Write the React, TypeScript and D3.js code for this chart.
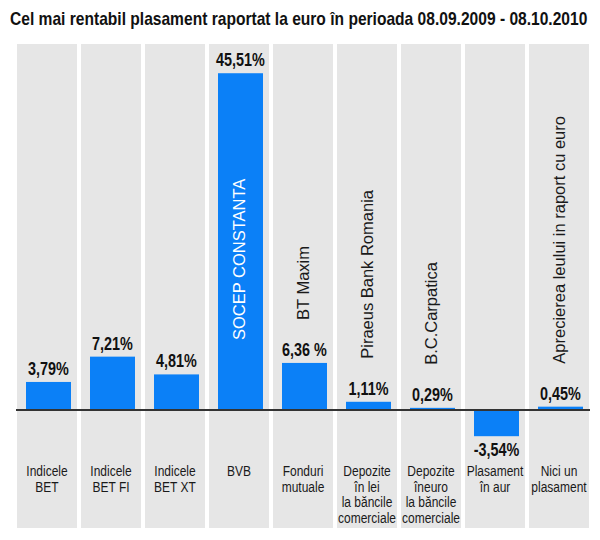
import { useEffect, useRef } from 'react';
import * as d3 from 'd3';

const title = 'Cel mai rentabil plasament raportat la euro în perioada 08.09.2009 - 08.10.2010';

const categories = ['bet', 'betfi', 'betxt', 'bvb', 'fonduri', 'lei', 'euro', 'aur', 'nici'];

const values = [3.79, 7.21, 4.81, 45.51, 6.36, 1.11, 0.29, -3.54, 0.45];

const valueLabels = ['3,79%', '7,21%', '4,81%', '45,51%', '6,36 %', '1,11%', '0,29%', '-3,54%', '0,45%'];

const categoryLabels = [
    ['Indicele', 'BET'],
    ['Indicele', 'BET FI'],
    ['Indicele', 'BET XT'],
    ['BVB'],
    ['Fonduri', 'mutuale'],
    ['Depozite', 'în lei', 'la băncile', 'comerciale'],
    ['Depozite', 'îneuro', 'la băncile', 'comerciale'],
    ['Plasament', 'în aur'],
    ['Nici un', 'plasament'],
];

// best performer names, written vertically
const winners = ['', '', '', 'SOCEP CONSTANTA', 'BT Maxim', 'Piraeus Bank Romania', 'B.C.Carpatica', '', 'Aprecierea leului in raport cu euro'];

const font = '"Liberation Sans", Arial, sans-serif';
const squeeze = 0.8; // no narrow font installed, so squash Liberation Sans

const App = () => {
    const ref = useRef(null);

    useEffect(() => {
        document.body.style.margin = '0';
        const svg = d3.select(ref.current);
        svg.selectAll('*').remove();

        const x = d3.scaleBand()
            .domain(categories)
            .range([17, 589])
            .paddingInner(0.0625)
            .paddingOuter(0);

        const y = d3.scaleLinear()
            .domain([-5, 50])
            .range([447, 40]);

        const bw = x.bandwidth();

        svg.append('rect')
            .attr('width', 600).attr('height', 540)
            .attr('fill', '#fff');

        const t = svg.append('text')
            .style('font-family', font)
            .style('font-weight', 'bold')
            .style('font-size', '19px')
            .attr('fill', '#111')
            .text(title);
        const natural = t.node().getComputedTextLength() || 700;
        t.attr('transform', `translate(10,25) scale(${578 / natural},1)`);

        // gray columns
        svg.append('g')
            .attr('fill', '#e6e6e6')
            .selectAll('rect').data(categories).enter().append('rect')
            .attr('x', d => x(d))
            .attr('y', 44)
            .attr('width', bw)
            .attr('height', 484);

        // bars
        svg.append('g')
            .attr('fill', '#0b80f7')
            .selectAll('rect').data(values).enter().append('rect')
            .attr('x', (d, i) => x(categories[i]) + bw * 0.15)
            .attr('y', d => y(Math.max(0, d)))
            .attr('width', bw * 0.75)
            .attr('height', d => Math.abs(y(d) - y(0)));

        svg.append('line')
            .attr('x1', 16).attr('x2', 590)
            .attr('y1', y(0)).attr('y2', y(0))
            .attr('stroke', '#333')
            .attr('stroke-width', 2);

        // value labels
        svg.append('g')
            .selectAll('text').data(values).enter().append('text')
            .attr('transform', (d, i) => {
                const cx = x(categories[i]) + bw / 2 + 1.5;
                const ty = d >= 0 ? y(d) - 7 : y(d) + 20;
                return `translate(${cx},${ty}) scale(${squeeze},1)`;
            })
            .attr('text-anchor', 'middle')
            .style('font-family', font)
            .style('font-weight', 'bold')
            .style('font-size', '18px')
            .attr('fill', '#111')
            .text((d, i) => valueLabels[i]);

        // category labels
        const lines = categoryLabels.flatMap((arr, i) => arr.map((t, j) => ({ t, i, j })));
        svg.append('g')
            .selectAll('text').data(lines).enter().append('text')
            .attr('transform', d => `translate(${x(categories[d.i]) + bw / 2},${476 + d.j * 15.5}) scale(${squeeze},1)`)
            .attr('text-anchor', 'middle')
            .style('font-family', font)
            .style('font-size', '15px')
            .attr('fill', '#1a1a1a')
            .text(d => d.t);

        // vertical names
        svg.append('g')
            .selectAll('text').data(winners).enter()
            .filter(d => d !== '')
            .append('text')
            .attr('transform', function (d) {
                const i = winners.indexOf(d);
                const v = values[i];
                const cx = x(categories[i]) + bw / 2;
                let bottom;
                if (v > 20) bottom = y(0) - 70;
                else bottom = Math.min(365, y(v) - 7 - 14 - 22);
                return `translate(${cx},${bottom}) rotate(-90)`;
            })
            .attr('dy', '0.36em')
            .style('font-family', font)
            .style('font-size', '16.5px')
            .attr('fill', d => d === 'SOCEP CONSTANTA' ? '#fff' : '#1a1a1a')
            .text(d => d);
    }, []);

    return (
        <svg ref={ref} width={600} height={540} />
    );
};

export default App;
